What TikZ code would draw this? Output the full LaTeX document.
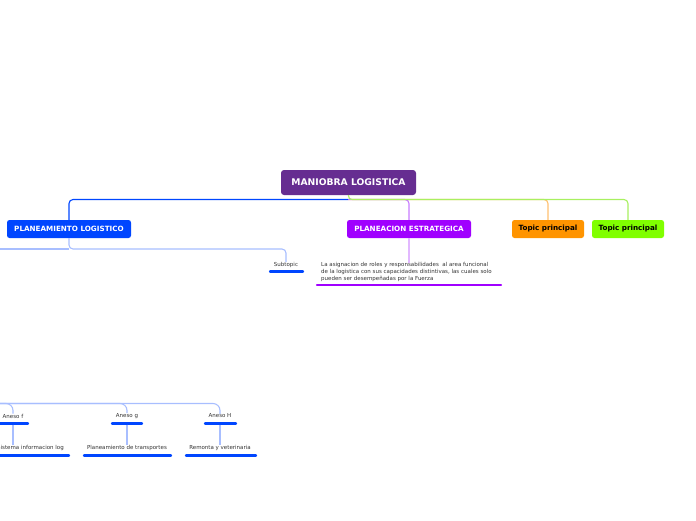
\documentclass[tikz,border=0pt]{standalone}
\usepackage{fontspec}
\setmainfont{DejaVu Sans}
\usetikzlibrary{calc}
\definecolor{rootc}{HTML}{662D91}
\definecolor{bluec}{HTML}{0046FF}
\definecolor{lblue}{HTML}{A8BEFF}
\definecolor{purc}{HTML}{A000FF}
\definecolor{lpur}{HTML}{C77BFF}
\definecolor{llpur}{HTML}{E2B8FF}
\definecolor{oranc}{HTML}{FF9400}
\definecolor{loran}{HTML}{FFC070}
\definecolor{greenc}{HTML}{80FF00}
\definecolor{lgreen}{HTML}{A8F060}
\tikzset{
  topbox/.style={rounded corners=2.5pt, minimum height=18, inner sep=0pt, font=\fontsize{7.2}{8}\selectfont\bfseries},
  rootbox/.style={rounded corners=3pt, fill=rootc, text=white, minimum width=135, minimum height=25, inner sep=0pt, font=\fontsize{9.2}{10}\selectfont\bfseries},
  small/.style={inner sep=0pt, font=\fontsize{5.5}{6.9}\selectfont, text=black!80},
  uline/.style={line width=2.4pt, line cap=round},
  conn/.style={line width=1.1pt, rounded corners=4pt},
}
\begin{document}
\begin{tikzpicture}[x=1pt,y=-1pt]
\useasboundingbox (0,0) rectangle (696,520);
\clip (0,0) rectangle (696,520);
% main nodes
\node[rootbox] (root) at (348.5,182.5) {MANIOBRA LOGISTICA};
\node[topbox, fill=bluec, text=white, minimum width=124] (pl) at (69,229) {PLANEAMIENTO LOGISTICO};
\node[topbox, fill=purc, text=white, minimum width=124] (pe) at (409,229) {PLANEACION ESTRATEGICA};
\node[topbox, fill=oranc, text=black, minimum width=72] (to) at (548,229) {Topic principal};
\node[topbox, fill=greenc, text=black, minimum width=72] (tg) at (628,229) {Topic principal};
\coordinate (hub) at (348,199.5);
% connectors from root
\draw[conn, loran] (hub) -| (to.north);
\draw[conn, lpur] (hub) -| (pe.north);
\draw[conn, lgreen] (root.south) -- (hub) -| (tg.north);
\draw[conn, bluec] (hub) -| (pl.north);
% subtopic
\node[small] (sub) at (286,265) {Subtopic};
\draw[uline, bluec] (270,271.5) -- (303,271.5);
\coordinate (pj) at (69,249);
\coordinate (pleft) at (-20,249);
\draw[conn, lblue] (pl.south) -- (pj) -| (sub.north);
\draw[conn, lblue] (pleft) -- (pj);
% paragraph
\node[small, anchor=north west, align=left] (para) at (321,262.5) {La asignacion de roles y responsabilidades\ \ al area funcional\\de la logistica con sus capacidades distintivas, las cuales solo\\pueden ser desempe\~nadas por la Fuerza};
\draw[uline, purc] (317,285) -- (501,285);
\draw[line width=1.1pt, llpur] (pe.south) -- (pe.south |- para.north);
% bottom anexos
\coordinate (offl) at (-40,403.5);
\node[small] (af) at (13,416) {Aneso f};
\node[small] (ag) at (127,416) {Aneso g};
\node[small] (ah) at (220,416) {Aneso H};
\draw[conn, lblue, rounded corners=7pt] (offl) -| (af.north);
\draw[conn, lblue, rounded corners=7pt] (offl) -| (ag.north);
\draw[conn, lblue, rounded corners=7pt] (offl) -| (ah.north);
\draw[uline, bluec] (-5,423.5) -- (28,423.5);
\draw[uline, bluec] (112,423.5) -- (142,423.5);
\draw[uline, bluec] (205,423.5) -- (236,423.5);
\node[small, anchor=east] (sf) at (64,448) {Sistema informacion log};
\node[small] (sg) at (127,448) {Planeamiento de transportes};
\node[small] (sh) at (220,448) {Remonta y veterinaria};
\draw[uline, bluec] (-8,455.5) -- (69,455.5);
\draw[uline, bluec] (84,455.5) -- (171,455.5);
\draw[uline, bluec] (186,455.5) -- (256,455.5);
\coordinate (afb) at (13,424.5);
\draw[line width=1.1pt, lblue] (afb) -- (afb |- sf.north);
\draw[line width=1.1pt, lblue] (127,424.5) -- (sg.north);
\draw[line width=1.1pt, lblue] (220,424.5) -- (sh.north);
\end{tikzpicture}
\end{document}
